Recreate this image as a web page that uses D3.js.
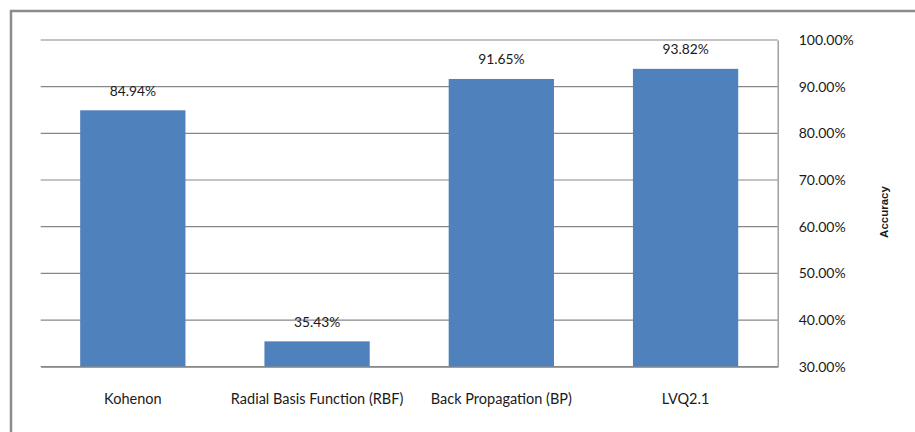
<!DOCTYPE html>
<html>
<head>
<meta charset="utf-8">
<script src="https://cdn.jsdelivr.net/npm/d3@7"></script>
<style>
  html, body { margin: 0; padding: 0; background: #fff; }
  svg { display: block; }
  text { font-family: Lato, "Open Sans", sans-serif; fill: #1a1a1a; }
</style>
</head>
<body>
<svg id="chart" width="915" height="432"></svg>
<script>
// Classifier accuracy (%)
const categories = ["Kohenon", "Radial Basis Function (RBF)", "Back Propagation (BP)", "LVQ2.1"];
const accuracy = [84.94, 35.43, 91.65, 93.82];
const tickValues = [30, 40, 50, 60, 70, 80, 90, 100];

const W = 915, H = 432;
const plot = { left: 40.7, right: 777.7, top: 40, bottom: 366.7 };

const svg = d3.select("#chart");

// outer frame (runs off the right and bottom edges)
svg.append("rect")
  .attr("x", 11).attr("y", 11)
  .attr("width", W).attr("height", H)
  .attr("fill", "none")
  .attr("stroke", "#8c8c8c")
  .attr("stroke-width", 2.5);

const x = d3.scaleBand()
  .domain(categories)
  .range([plot.left, plot.right])
  .paddingInner(0.4286)
  .paddingOuter(0.2143);

const y = d3.scaleLinear()
  .domain([30, 100])
  .range([plot.bottom, plot.top]);

// gridlines
svg.append("g")
  .selectAll("line")
  .data(tickValues)
  .join("line")
  .attr("x1", plot.left).attr("x2", plot.right)
  .attr("y1", d => y(d)).attr("y2", d => y(d))
  .attr("stroke", "#888")
  .attr("stroke-width", 1.2);

// bars
svg.append("g")
  .selectAll("rect")
  .data(categories)
  .join("rect")
  .attr("x", d => x(d))
  .attr("width", x.bandwidth())
  .attr("y", (d, i) => y(accuracy[i]))
  .attr("height", (d, i) => y(30) - y(accuracy[i]))
  .attr("fill", "#4f81bd");

// value labels
svg.append("g")
  .selectAll("text")
  .data(categories)
  .join("text")
  .attr("x", d => x(d) + x.bandwidth() / 2)
  .attr("y", (d, i) => y(accuracy[i]) - 14.5)
  .attr("text-anchor", "middle")
  .style("font-size", "13.8px")
  .text((d, i) => accuracy[i].toFixed(2) + "%");

// right value axis
const yAxis = d3.axisRight(y)
  .tickValues(tickValues)
  .tickSize(0)
  .tickPadding(21)
  .tickFormat(d => d.toFixed(2) + "%");

const gy = svg.append("g")
  .attr("transform", `translate(${plot.right},0)`)
  .call(yAxis);
gy.select(".domain").attr("stroke", "#888").attr("stroke-width", 1.2);
gy.selectAll("text")
  .style("font-size", "14px")
  .style("font-family", "Lato, sans-serif")
  .attr("fill", "#1a1a1a");

// bottom category axis
const xAxis = d3.axisBottom(x).tickSize(0).tickPadding(27);
const gx = svg.append("g")
  .attr("transform", `translate(0,${plot.bottom})`)
  .call(xAxis);
gx.select(".domain").attr("stroke", "#888").attr("stroke-width", 1.2);
gx.selectAll("text")
  .style("font-size", "14.5px")
  .style("font-family", "Lato, sans-serif")
  .attr("fill", "#1a1a1a");

// axis title
svg.append("text")
  .attr("transform", "translate(888,212) rotate(-90)")
  .attr("text-anchor", "middle")
  .style("font-family", "'Liberation Sans', Arial, sans-serif")
  .style("font-weight", "bold")
  .style("font-size", "11.5px")
  .attr("fill", "#000")
  .text("Accuracy");
</script>
</body>
</html>
